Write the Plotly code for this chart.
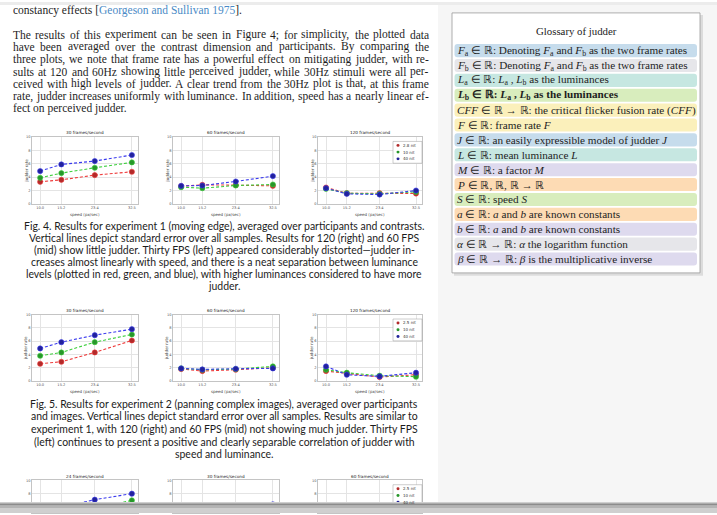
import plotly.graph_objects as go

W, H = 717, 515


def fx(x):
    return x / W


def fy(y):
    return 1 - y / H


# ---------------------------------------------------------------- data
speed = [10.0, 15.2, 23.4, 32.5]
speed_ticks = ["10.0", "15.2", "23.4", "32.5"]
judder_ticks = [0, 2, 4, 6, 8, 10]

# Experiment 1: moving edge (low / mid / high luminance)
e1_30_low = [3.3, 3.6, 4.3, 4.8]
e1_30_mid = [3.9, 4.6, 5.4, 6.2]
e1_30_high = [4.9, 5.9, 6.4, 7.3]
e1_60_low = [2.65, 2.85, 2.8, 2.7]
e1_60_mid = [2.5, 2.35, 2.75, 2.9]
e1_60_high = [2.7, 2.75, 3.35, 4.15]
e1_120_low = [2.45, 1.6, 1.6, 1.55]
e1_120_mid = [2.25, 1.6, 1.5, 1.8]
e1_120_high = [2.35, 1.5, 1.4, 2.0]

# Experiment 2: panning complex images
e2_30_low = [2.6, 2.9, 4.3, 6.1]
e2_30_mid = [3.8, 4.3, 5.85, 7.0]
e2_30_high = [4.9, 5.85, 6.9, 7.8]
e2_60_low = [1.8, 1.5, 1.7, 2.0]
e2_60_mid = [1.9, 1.7, 1.8, 2.2]
e2_60_high = [1.9, 1.75, 1.85, 1.9]
e2_120_low = [1.5, 1.15, 0.6, 0.95]
e2_120_mid = [1.7, 1.25, 0.8, 0.65]
e2_120_high = [2.2, 0.95, 0.7, 1.25]

# Experiment 3
e3_24_low = [3.0, 3.6, 4.6, 5.6]
e3_24_mid = [4.0, 4.8, 5.8, 7.0]
e3_24_high = [5.2, 6.0, 7.1, 8.0]
e3_30_low = [2.8, 3.0, 3.4, 3.9]
e3_30_mid = [3.6, 3.9, 4.3, 4.9]
e3_30_high = [4.4, 4.9, 5.5, 6.4]
e3_60_low = [2.2, 2.0, 2.1, 2.3]
e3_60_mid = [2.4, 2.2, 2.3, 2.5]
e3_60_high = [2.6, 2.4, 2.6, 2.9]

lum_labels_1 = ["2.8 nit", "10 nit", "40 nit"]
lum_labels_2 = ["2.5 nit", "10 nit", "40 nit"]

body_lines = [
    "The results of this experiment can be seen in Figure 4; for simplicity, the plotted data",
    "have been averaged over the contrast dimension and participants. By comparing the",
    "three plots, we note that frame rate has a powerful effect on mitigating judder, with re-",
    "sults at 120 and 60Hz showing little perceived judder, while 30Hz stimuli were all per-",
    "ceived with high levels of judder. A clear trend from the 30Hz plot is that, at this frame",
    "rate, judder increases uniformly with luminance. In addition, speed has a nearly linear ef-",
    "fect on perceived judder.",
]

fig4_caption = [
    "Fig. 4. Results for experiment 1 (moving edge), averaged over participants and contrasts.",
    "Vertical lines depict standard error over all samples. Results for 120 (right) and 60 FPS",
    "(mid) show little judder. Thirty FPS (left) appeared considerably distorted\u2014judder in-",
    "creases almost linearly with speed, and there is a neat separation between luminance",
    "levels (plotted in red, green, and blue), with higher luminances considered to have more",
    "judder.",
]

fig5_caption = [
    "Fig. 5. Results for experiment 2 (panning complex images), averaged over participants",
    "and images. Vertical lines depict standard error over all samples. Results are similar to",
    "experiment 1, with 120 (right) and 60 FPS (mid) not showing much judder. Thirty FPS",
    "(left) continues to present a positive and clearly separable correlation of judder with",
    "speed and luminance.",
]

glossary_title = "Glossary of judder"
glossary_rows = [
    "<i>F</i><sub>a</sub> \u2208 \u211d: Denoting <i>F</i><sub>a</sub> and <i>F</i><sub>b</sub> as the two frame rates",
    "<i>F</i><sub>b</sub> \u2208 \u211d: Denoting <i>F</i><sub>a</sub> and <i>F</i><sub>b</sub> as the two frame rates",
    "<i>L</i><sub>a</sub> \u2208 \u211d: <i>L</i><sub>a</sub> , <i>L</i><sub>b</sub> as the luminances",
    "<b><i>L</i><sub>b</sub> \u2208 \u211d: <i>L</i><sub>a</sub> , <i>L</i><sub>b</sub> as the luminances</b>",
    "<i>CFF</i> \u2208 \u211d \u2192 \u211d: the critical flicker fusion rate (<i>CFF</i>)",
    "<i>F</i> \u2208 \u211d: frame rate <i>F</i>",
    "<i>J</i> \u2208 \u211d: an easily expressible model of judder <i>J</i>",
    "<i>L</i> \u2208 \u211d: mean luminance <i>L</i>",
    "<i>M</i> \u2208 \u211d: a factor <i>M</i>",
    "<i>P</i> \u2208 \u211d, \u211d, \u211d \u2192 \u211d",
    "<i>S</i> \u2208 \u211d: speed <i>S</i>",
    "<i>a</i> \u2208 \u211d: <i>a</i> and <i>b</i> are known constants",
    "<i>b</i> \u2208 \u211d: <i>a</i> and <i>b</i> are known constants",
    "<i>\u03b1</i> \u2208 \u211d \u2192 \u211d: <i>\u03b1</i> the logarithm function",
    "<i>\u03b2</i> \u2208 \u211d \u2192 \u211d: <i>\u03b2</i> is the multiplicative inverse",
]
glossary_colors = [
    "#c6dcec", "#e6e6ea", "#c6e7e1", "#d8edbd", "#fbf0bb",
    "#fbf0bb", "#c6dcec", "#c6e7e1", "#dedaee", "#fddbb4",
    "#d8edbd", "#fddbb4", "#dedaee", "#e6e6ea", "#dedaee",
]

# ---------------------------------------------------------------- styles
SERIF = "Liberation Serif"
SANS = "Lato"
LINE_COL = ["#ee3b3b", "#3ccf3c", "#3b3bee"]
MARK_COL = ["#b22a2a", "#27962a", "#22229a"]

ROWS = {1: (136, 203.5), 2: (315, 382), 3: (482, 515)}
COLS = [(32, 138), (173, 279), (318, 422)]
UNIT_PX = 6.75  # pixels per judder unit

charts = [
    ("30 frames/second", 1, 0, (e1_30_low, e1_30_mid, e1_30_high), None),
    ("60 frames/second", 1, 1, (e1_60_low, e1_60_mid, e1_60_high), None),
    ("120 frames/second", 1, 2, (e1_120_low, e1_120_mid, e1_120_high), lum_labels_1),
    ("30 frames/second", 2, 0, (e2_30_low, e2_30_mid, e2_30_high), None),
    ("60 frames/second", 2, 1, (e2_60_low, e2_60_mid, e2_60_high), None),
    ("120 frames/second", 2, 2, (e2_120_low, e2_120_mid, e2_120_high), lum_labels_2),
    ("24 frames/second", 3, 0, (e3_24_low, e3_24_mid, e3_24_high), None),
    ("30 frames/second", 3, 1, (e3_30_low, e3_30_mid, e3_30_high), None),
    ("60 frames/second", 3, 2, (e3_60_low, e3_60_mid, e3_60_high), lum_labels_2),
]

fig = go.Figure()
shapes = []
annotations = []


def text(x, y, s, size, family=SERIF, color="#1e1e1e", xanchor="left", angle=0):
    annotations.append(dict(
        x=fx(x), y=fy(y), xref="paper", yref="paper", text=s, showarrow=False,
        xanchor=xanchor, yanchor="middle", textangle=angle,
        font=dict(family=family, size=size, color=color),
        borderpad=0,
    ))


def rect(x0, y0, x1, y1, fill, line=None, lw=0, layer="below"):
    shapes.append(dict(
        type="rect", xref="paper", yref="paper",
        x0=fx(x0), x1=fx(x1), y0=fy(y1), y1=fy(y0),
        fillcolor=fill, line=dict(color=line or fill, width=lw), layer=layer,
    ))


def rounded(x0, y0, x1, y1, r, fill):
    rx, ry = r / W, r / H
    xl, xr, yt, yb = fx(x0), fx(x1), fy(y0), fy(y1)
    p = (f"M {xl+rx},{yt} L {xr-rx},{yt} Q {xr},{yt} {xr},{yt-ry} "
         f"L {xr},{yb+ry} Q {xr},{yb} {xr-rx},{yb} L {xl+rx},{yb} "
         f"Q {xl},{yb} {xl},{yb+ry} L {xl},{yt-ry} Q {xl},{yt} {xl+rx},{yt} Z")
    shapes.append(dict(type="path", xref="paper", yref="paper", path=p,
                       fillcolor=fill, line=dict(width=0), layer="below"))


# ---------------------------------------------------------------- page background
rect(0, 0, W, 3, "#ececec")
rect(438, 3, W, 505, "#f6f6f6")
rect(454, 13, 703, 276, "#dcdcdc")          # glossary drop shadow
rect(452, 11, 700, 273, "#ffffff", "#9a9a9a", 0.8)

# ---------------------------------------------------------------- body text (justified)
TIMES_W = {
    "a": 444, "b": 500, "c": 444, "d": 500, "e": 444, "f": 333, "g": 500, "h": 500,
    "i": 278, "j": 278, "k": 500, "l": 278, "m": 778, "n": 500, "o": 500, "p": 500,
    "q": 500, "r": 333, "s": 389, "t": 278, "u": 500, "v": 500, "w": 722, "x": 500,
    "y": 500, "z": 444, "A": 722, "B": 667, "C": 667, "D": 722, "E": 611, "F": 556,
    "G": 722, "H": 722, "I": 333, "J": 389, "K": 722, "L": 611, "M": 889, "N": 722,
    "O": 722, "P": 556, "Q": 722, "R": 667, "S": 556, "T": 611, "U": 722, "V": 722,
    "W": 944, "X": 722, "Y": 722, "Z": 611, ",": 250, ".": 250, ";": 278, ":": 278,
    "-": 333, "(": 333, ")": 333, "[": 333, "]": 333,
}
BODY_SIZE = 11.5
BODY_LEFT, BODY_RIGHT = 12, 428


def word_width(w, size):
    return sum(TIMES_W.get(ch, 500) for ch in w) * size / 1000.0


text(BODY_LEFT, 9,
     "constancy effects [<span style='color:#4a8ac6'>Georgeson and Sullivan 1975</span>].",
     BODY_SIZE)

body_y0, body_dy = 33, 12.35
for i, line in enumerate(body_lines):
    y = body_y0 + i * body_dy
    words = line.split(" ")
    if i == len(body_lines) - 1:
        text(BODY_LEFT, y, line, BODY_SIZE)
        continue
    widths = [word_width(w, BODY_SIZE) for w in words]
    gap = (BODY_RIGHT - BODY_LEFT - sum(widths)) / (len(words) - 1)
    x = BODY_LEFT
    for w, ww in zip(words, widths):
        text(x, y, w, BODY_SIZE)
        x += ww + gap

# ---------------------------------------------------------------- captions
CAP_SIZE = 10.45
for i, line in enumerate(fig4_caption):
    text(224, 226 + i * 12, line, CAP_SIZE, SANS, "#1c1c1c", "center")
for i, (line, y) in enumerate(zip(fig5_caption, [405, 417.5, 430, 443, 456])):
    text(224, y, line, CAP_SIZE, SANS, "#1c1c1c", "center")

# ---------------------------------------------------------------- glossary
text(576, 29, glossary_title, 10.8, SERIF, "#222222", "center")
for i, (row, col) in enumerate(zip(glossary_rows, glossary_colors)):
    yc = 49 + 15 * i
    rounded(454.5, yc - 6.6, 697, yc + 6.6, 3, col)
    text(456, yc, row, 11.2, SERIF, "#1e1e1e")

# ---------------------------------------------------------------- small charts
for k, (title, row, col, series, legend_labels) in enumerate(charts):
    n = "" if k == 0 else str(k + 1)
    top, bot = ROWS[row]
    left, right = COLS[col]
    if row == 3:
        yr = [10 - (bot - top) / UNIT_PX, 10]
    else:
        yr = [0, 10]
    axis_common = dict(
        showgrid=True, gridcolor="#e4e4e4", gridwidth=0.6,
        showline=True, linecolor="#c4c4c4", linewidth=0.6, mirror=True,
        zeroline=False, ticks="", tickfont=dict(size=3.6, color="#555555", family="DejaVu Sans"),
    )
    fig.layout["xaxis" + n] = dict(
        domain=[fx(left), fx(right)], range=[8, 34], anchor="y" + n,
        tickvals=speed, ticktext=speed_ticks, fixedrange=True,
        showticklabels=(row != 3), **axis_common,
    )
    fig.layout["yaxis" + n] = dict(
        domain=[fy(bot), fy(top)], range=yr, anchor="x" + n,
        tickvals=judder_ticks, fixedrange=True, **axis_common,
    )
    for vals, lc, mc in zip(series, LINE_COL, MARK_COL):
        fig.add_trace(go.Scatter(
            x=speed, y=vals, xaxis="x" + n, yaxis="y" + n, mode="lines+markers",
            line=dict(color=lc, width=1.1, dash="3px,2px"),
            marker=dict(size=5.2, color=mc, line=dict(color=lc, width=0.6)),
            showlegend=False, cliponaxis=True,
        ))
    cx = (left + right) / 2
    text(cx, top - 4, title, 4.2, "DejaVu Sans", "#222222", "center")
    if row != 3:
        text(cx, bot + 11, "speed (px/sec)", 4.0, "DejaVu Sans", "#444444", "center")
        text(left - 6, (top + bot) / 2, "judder rate", 4.0, "DejaVu Sans", "#444444",
             "center", angle=-90)
    if legend_labels:
        lx, ly = 393, top + 4.5
        rect(lx, ly, lx + 29, ly + 22, "#ffffff", "#9a9a9a", 0.5, layer="above")
        for j, (lab, mc) in enumerate(zip(legend_labels, MARK_COL)):
            iy = ly + 4 + j * 6.8
            shapes.append(dict(type="circle", xref="paper", yref="paper",
                               x0=fx(lx + 3.5), x1=fx(lx + 6.5), y0=fy(iy + 1.5), y1=fy(iy - 1.5),
                               fillcolor=mc, line=dict(width=0), layer="above"))
            text(lx + 9, iy, lab, 4.0, "DejaVu Sans", "#333333")

# ---------------------------------------------------------------- window edge at the bottom
rect(0, 504, W, 515, "#cfcfcf", layer="above")
rect(0, 505.5, W, 507.5, "#8c8c8c", layer="above")
rect(0, 507.5, W, 510, "#b4b4b4", layer="above")

fig.update_layout(
    width=W, height=H, margin=dict(l=0, r=0, t=0, b=0),
    paper_bgcolor="#ffffff", plot_bgcolor="#ffffff",
    shapes=shapes, annotations=annotations, showlegend=False,
)

fig.write_html("out.html", config={"displayModeBar": False})
